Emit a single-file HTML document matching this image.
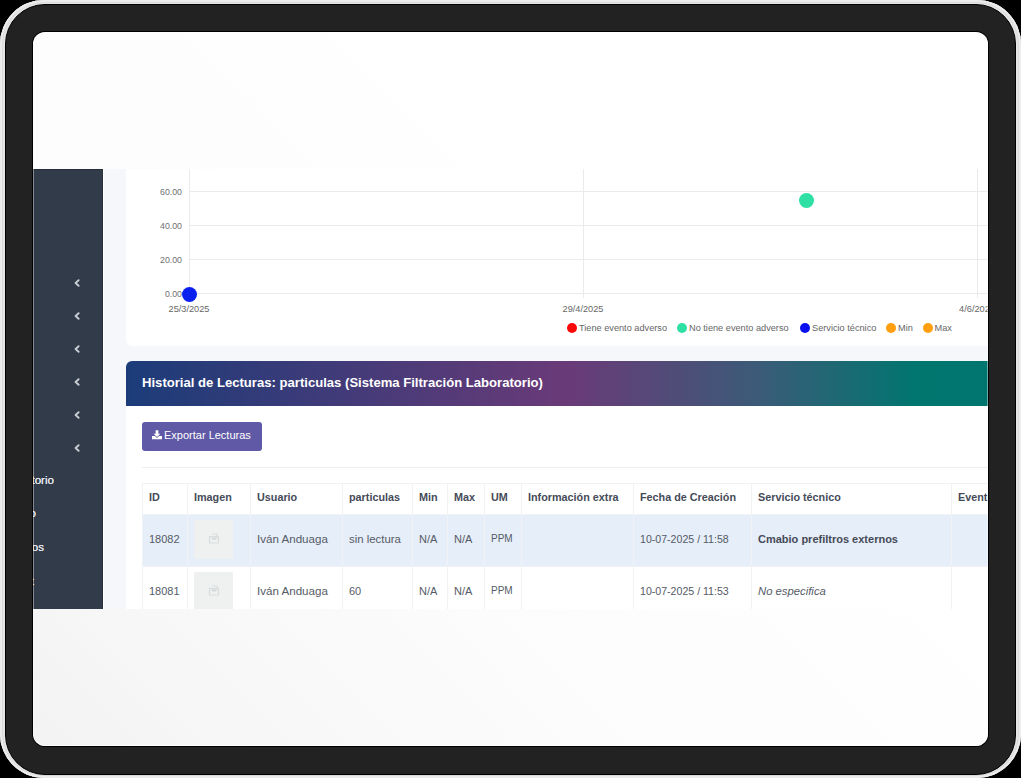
<!DOCTYPE html>
<html><head><meta charset="utf-8">
<style>
*{box-sizing:border-box;margin:0;padding:0}
html,body{width:1021px;height:778px;overflow:hidden;background:#000;font-family:"Liberation Sans",sans-serif}
.outer{position:absolute;left:0;top:0;width:1021px;height:778px;border-radius:44px;background:#e6e6e6;box-shadow:inset 0 0 0 2px #ececec, inset 0 0 0 3px #dadada}
.frame{position:absolute;left:5px;top:4px;width:1011px;height:771px;border-radius:40px;background:#222;border:1px solid #000}
.screen{position:absolute;left:33px;top:32px;width:955px;height:714px;border-radius:12px;overflow:hidden;background:linear-gradient(45deg,#f2f2f2 0%,#f7f7f7 13%,#fcfcfc 35%,#fdfdfd 45%,#ffffff 68%);box-shadow:0 0 0 1px #000}
.shot{position:absolute;left:0;top:137px;width:955px;height:440px;overflow:hidden;background:#f5f7fb}
.sidebar{position:absolute;left:0;top:0;width:70px;height:440px;background:#323b4a;border-right:1px solid #2a313d;border-top:1px solid #262d38}
.gap{position:absolute;left:70px;top:0;width:1px;height:440px;background:#fff}
.card{position:absolute;background:#fff}
.glass{position:absolute;left:0;top:0;width:955px;height:714px;border-radius:12px;box-shadow:inset 1px 0 0 rgba(255,255,255,.4),inset -1px 0 0 rgba(255,255,255,.4),inset 0 -1px 0 rgba(255,255,255,.8)}
.chev{position:absolute;left:40.5px;width:6px;height:8px}
.sbt{position:absolute;color:#e6e8ec;font-size:11.6px;text-shadow:0 0 0.4px #e6e8ec;line-height:14px;white-space:nowrap;text-align:right}
.gl{position:absolute;background:#ebebeb}
.yl{position:absolute;width:39px;text-align:right;font-size:8.8px;color:#707070;line-height:10px}
.xl{position:absolute;width:80px;text-align:center;font-size:9.2px;color:#666;line-height:10px}
.dot{position:absolute;border-radius:50%}
.lg{position:absolute;top:154px;font-size:9.2px;color:#666;line-height:10px;white-space:nowrap}
.lg i{display:inline-block;width:10px;height:10px;border-radius:50%;vertical-align:-2px;margin-right:2px}
.banner{position:absolute;left:0;top:0;width:880px;height:45px;border-radius:6px 6px 0 0;background:linear-gradient(90deg,#1b3c79 0%,#6a3a78 49%,#3c5a78 70%,#00766f 88%,#00756f 100%)}
.title{position:absolute;left:16px;top:14px;color:#fff;font-weight:bold;font-size:13.1px;line-height:16px;white-space:nowrap}
.btn{position:absolute;left:16px;top:61px;width:120px;height:29px;border-radius:3px;background:#6059a6;color:#fff;font-size:11px;line-height:27px;white-space:nowrap}
.hr{position:absolute;left:16px;top:106px;width:900px;height:1px;background:#eceef1}
table{position:absolute;left:16px;top:122px;border-collapse:collapse;table-layout:fixed}
td,th{border:1px solid #f0f2f5;padding:0 0 0 6px;text-align:left;white-space:nowrap;overflow:hidden}
th{height:31px;padding-bottom:4px;line-height:14px;font-weight:bold;font-size:10.8px;color:#454b58}
td{height:52px;padding-bottom:3px;line-height:14px;font-size:11px;color:#555b66}
tr.r1 td{background:#e6eef9}
.ph{width:39px;height:39px;background:#eff1f1;position:relative}
.ph svg{position:absolute;left:14px;top:13px}
</style></head>
<body>
<div class="outer"></div>
<div class="frame"></div>
<div class="screen">
  <div class="shot">
    <div class="sidebar">
      <svg class="chev" style="top:108.6px" viewBox="0 0 6 8"><path d="M4.6 1.2 L1.6 4 L4.6 6.8" stroke="#c9cdd3" stroke-width="1.9" fill="none" stroke-linecap="round" stroke-linejoin="round"/></svg>
      <svg class="chev" style="top:142px" viewBox="0 0 6 8"><path d="M4.6 1.2 L1.6 4 L4.6 6.8" stroke="#c9cdd3" stroke-width="1.9" fill="none" stroke-linecap="round" stroke-linejoin="round"/></svg>
      <svg class="chev" style="top:174.7px" viewBox="0 0 6 8"><path d="M4.6 1.2 L1.6 4 L4.6 6.8" stroke="#c9cdd3" stroke-width="1.9" fill="none" stroke-linecap="round" stroke-linejoin="round"/></svg>
      <svg class="chev" style="top:208px" viewBox="0 0 6 8"><path d="M4.6 1.2 L1.6 4 L4.6 6.8" stroke="#c9cdd3" stroke-width="1.9" fill="none" stroke-linecap="round" stroke-linejoin="round"/></svg>
      <svg class="chev" style="top:240.8px" viewBox="0 0 6 8"><path d="M4.6 1.2 L1.6 4 L4.6 6.8" stroke="#c9cdd3" stroke-width="1.9" fill="none" stroke-linecap="round" stroke-linejoin="round"/></svg>
      <svg class="chev" style="top:274px" viewBox="0 0 6 8"><path d="M4.6 1.2 L1.6 4 L4.6 6.8" stroke="#c9cdd3" stroke-width="1.9" fill="none" stroke-linecap="round" stroke-linejoin="round"/></svg>
      <div class="sbt" style="right:48px;top:303px">Laboratorio</div>
      <div class="sbt" style="right:66px;top:336px">Equipo</div>
      <div class="sbt" style="right:58px;top:369.5px">Grupos</div>
      <div class="sbt" style="right:68px;top:404px">Cuentas t</div>
    </div>
    <div class="gap"></div>

    <!-- chart card -->
    <div class="card" style="left:93px;top:-10px;width:900px;height:187px;border-radius:6px">
      <div style="position:absolute;left:0;top:10px;width:900px;height:177px">
        <div class="gl" style="left:63px;top:22px;width:837px;height:1px"></div>
        <div class="gl" style="left:63px;top:56px;width:837px;height:1px"></div>
        <div class="gl" style="left:63px;top:90px;width:837px;height:1px"></div>
        <div class="gl" style="left:63px;top:124px;width:837px;height:1px"></div>
        <div class="gl" style="left:63px;top:0;width:1px;height:129px"></div>
        <div class="gl" style="left:457px;top:0;width:1px;height:129px"></div>
        <div class="gl" style="left:851px;top:0;width:1px;height:129px"></div>
        <div class="yl" style="left:17px;top:17.7px">60.00</div>
        <div class="yl" style="left:17px;top:51.7px">40.00</div>
        <div class="yl" style="left:17px;top:85.7px">20.00</div>
        <div class="yl" style="left:17px;top:119.7px">0.00</div>
        <div class="xl" style="left:23px;top:135px">25/3/2025</div>
        <div class="xl" style="left:417px;top:135px">29/4/2025</div>
        <div class="xl" style="left:811px;top:135px">4/6/2025</div>
        <div class="dot" style="left:55.7px;top:117.5px;width:15px;height:15px;background:#0a20ee"></div>
        <div class="dot" style="left:673px;top:24px;width:15px;height:15px;background:#2fe0a4"></div>
        <div class="lg" style="left:441px"><i style="background:#f90a0a"></i>Tiene evento adverso</div>
        <div class="lg" style="left:551px"><i style="background:#2fe0a4"></i>No tiene evento adverso</div>
        <div class="lg" style="left:674px"><i style="background:#0a10ee"></i>Servicio técnico</div>
        <div class="lg" style="left:760px"><i style="background:#ff9f10"></i>Min</div>
        <div class="lg" style="left:796.5px"><i style="background:#ff9f10"></i>Max</div>
      </div>
    </div>

    <!-- table card -->
    <div class="card" style="left:93px;top:192px;width:900px;height:300px;border-radius:6px">
      <div class="banner" style="width:900px"><div class="title">Historial de Lecturas: particulas (Sistema Filtración Laboratorio)</div></div>
      <div class="btn"><svg style="position:absolute;left:10px;top:8px" width="10" height="9.5" viewBox="0 0 11 10"><path d="M4 0h3v4h2.2L5.5 7.6 1.8 4H4z" fill="#fff"/><path d="M0 6.5h3.2l2.3 2.2 2.3-2.2H11V10H0z" fill="#fff"/></svg><span style="position:absolute;left:22px;top:0">Exportar Lecturas</span></div>
      <div class="hr"></div>
      <table style="width:909px">
        <colgroup><col style="width:45px"><col style="width:63px"><col style="width:92px"><col style="width:70px"><col style="width:35px"><col style="width:37px"><col style="width:37px"><col style="width:112px"><col style="width:118px"><col style="width:200px"><col style="width:100px"></colgroup>
        <tr><th>ID</th><th>Imagen</th><th>Usuario</th><th>particulas</th><th>Min</th><th>Max</th><th>UM</th><th>Información extra</th><th>Fecha de Creación</th><th>Servicio técnico</th><th>Evento</th></tr>
        <tr class="r1"><td>18082</td><td style="padding-bottom:3px;padding-left:5.5px"><div class="ph"><svg width="12" height="11" viewBox="0 0 12 11"><path d="M4 1h5v2M1.5 3.5h9v6.5h-9z" stroke="#d9dcdd" stroke-width="1.2" fill="none"/><path d="M3 4.5h6.5l-1.5 2H4.5z" fill="#d4d7d9"/></svg></div></td><td style="font-size:11.6px">Iván Anduaga</td><td style="font-size:11.4px">sin lectura</td><td>N/A</td><td>N/A</td><td style="font-size:10px">PPM</td><td></td><td style="font-size:10.6px">10-07-2025 / 11:58</td><td style="font-weight:bold;color:#454a57">Cmabio prefiltros externos</td><td></td></tr>
        <tr><td>18081</td><td style="padding-bottom:3px;padding-left:5.5px"><div class="ph"><svg width="12" height="11" viewBox="0 0 12 11"><path d="M4 1h5v2M1.5 3.5h9v6.5h-9z" stroke="#d9dcdd" stroke-width="1.2" fill="none"/><path d="M3 4.5h6.5l-1.5 2H4.5z" fill="#d4d7d9"/></svg></div></td><td style="font-size:11.6px">Iván Anduaga</td><td>60</td><td>N/A</td><td>N/A</td><td style="font-size:10px">PPM</td><td></td><td style="font-size:10.6px">10-07-2025 / 11:53</td><td style="font-style:italic;font-size:11.3px">No especifica</td><td></td></tr>
      </table>
    </div>
  </div>
  <div class="glass"></div>
</div>
</body></html>
